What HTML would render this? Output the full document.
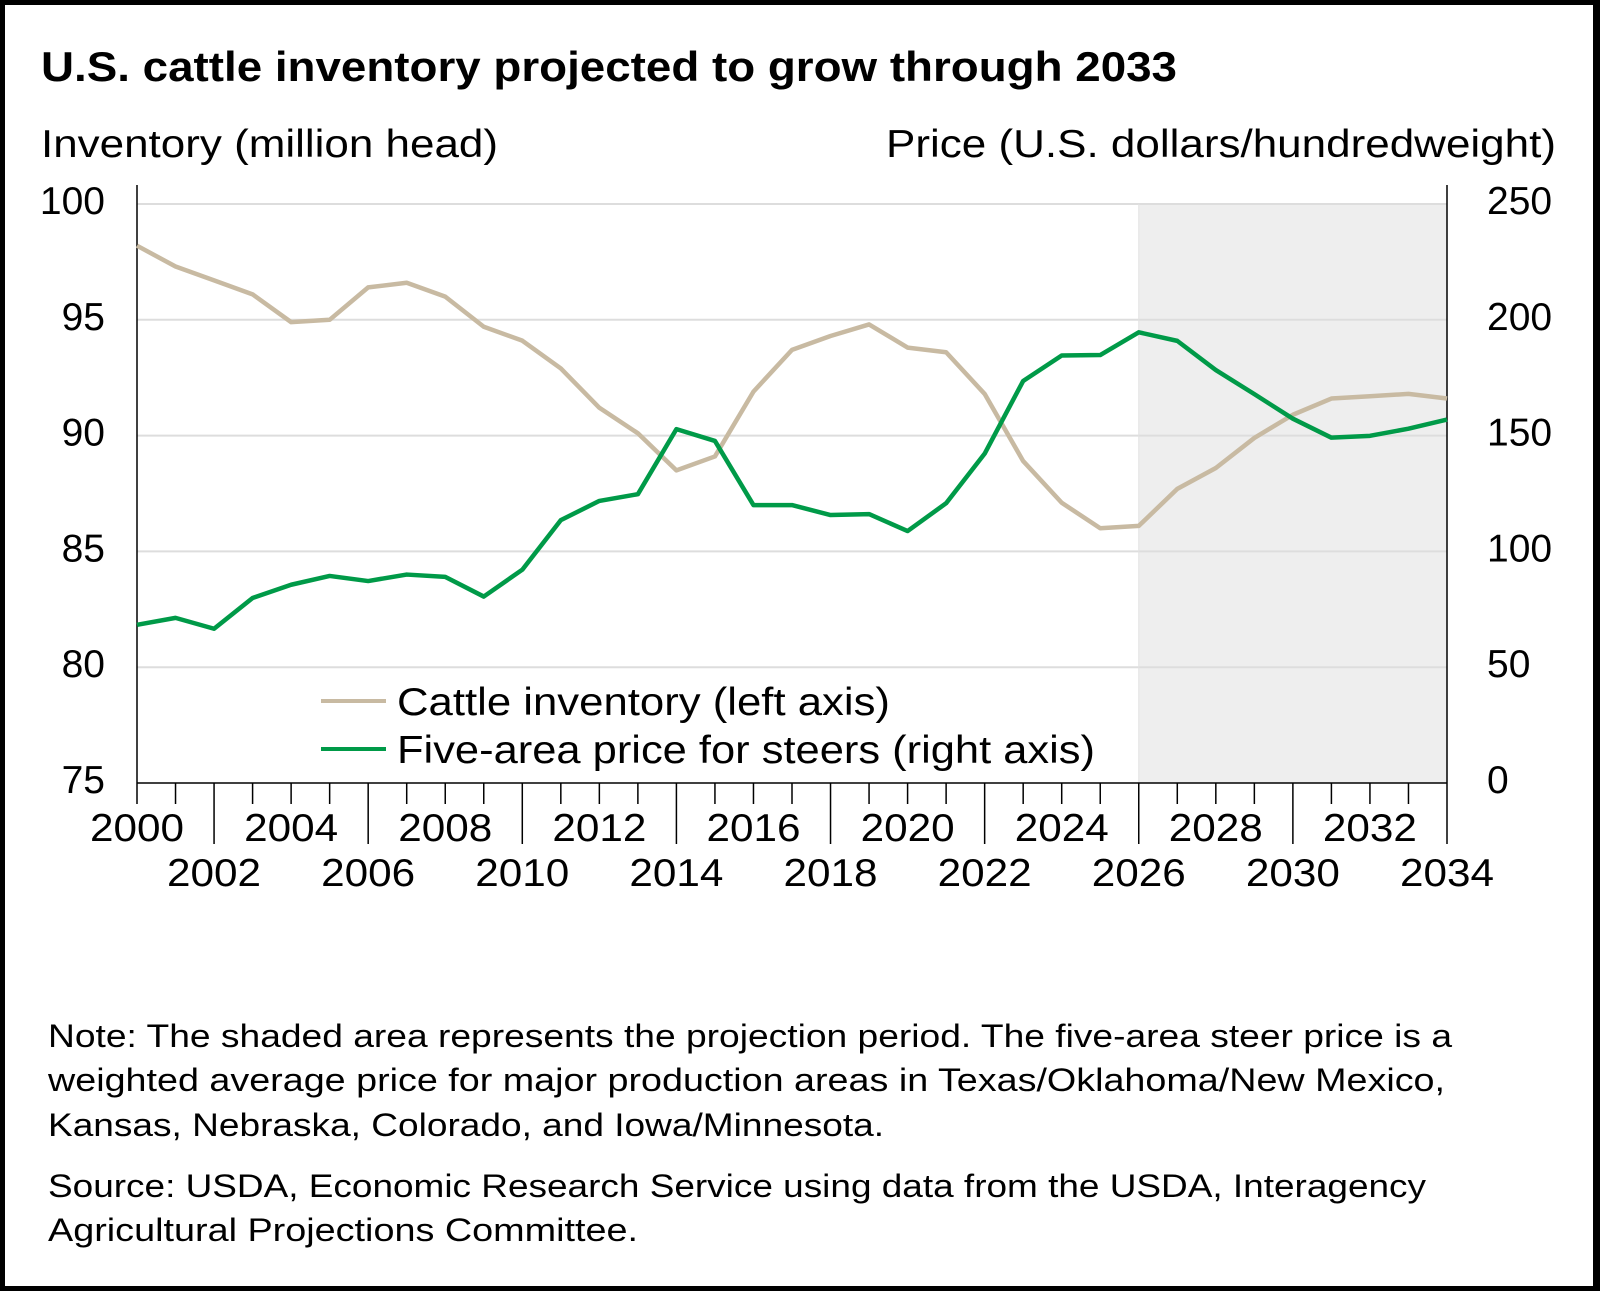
<!DOCTYPE html>
<html><head><meta charset="utf-8"><style>
html,body{margin:0;padding:0;background:#fff}
body{width:1600px;height:1291px;overflow:hidden;position:relative;font-family:"Liberation Sans",sans-serif}
</style></head><body>
<div style="position:absolute;left:0;top:0;width:1588px;height:1281px;border:5px solid #000;border-right-width:7px;box-sizing:content-box"></div>
<svg id="chart" width="1600" height="1291" style="position:absolute;left:0;top:0" font-family="Liberation Sans, sans-serif">
<text x="41" y="81" font-size="42" font-weight="bold" fill="#000" textLength="1136" lengthAdjust="spacingAndGlyphs">U.S. cattle inventory projected to grow through 2033</text>
<text x="41" y="157" font-size="39" fill="#000" textLength="457" lengthAdjust="spacingAndGlyphs">Inventory (million head)</text>
<text x="886" y="157" font-size="39" fill="#000" textLength="670" lengthAdjust="spacingAndGlyphs">Price (U.S. dollars/hundredweight)</text>
<g id="plot"></g>
<g>
<line x1="321" y1="701" x2="386" y2="701" stroke="#c8baa2" stroke-width="4"/>
<text x="397" y="715" font-size="39" textLength="493" lengthAdjust="spacingAndGlyphs">Cattle inventory (left axis)</text>
<line x1="321" y1="749" x2="386" y2="749" stroke="#009a48" stroke-width="4"/>
<text x="397" y="763" font-size="39" textLength="698" lengthAdjust="spacingAndGlyphs">Five-area price for steers (right axis)</text>
</g>
<g font-size="32" fill="#000">
<text x="48" y="1047" textLength="1404" lengthAdjust="spacingAndGlyphs">Note: The shaded area represents the projection period. The five-area steer price is a</text>
<text x="48" y="1091" textLength="1397" lengthAdjust="spacingAndGlyphs">weighted average price for major production areas in Texas/Oklahoma/New Mexico,</text>
<text x="48" y="1136" textLength="836" lengthAdjust="spacingAndGlyphs">Kansas, Nebraska, Colorado, and Iowa/Minnesota.</text>
<text x="48" y="1197" textLength="1378" lengthAdjust="spacingAndGlyphs">Source: USDA, Economic Research Service using data from the USDA, Interagency</text>
<text x="48" y="1241" textLength="590" lengthAdjust="spacingAndGlyphs">Agricultural Projections Committee.</text>
</g>
</svg>
<script>
const years=[2000,2001,2002,2003,2004,2005,2006,2007,2008,2009,2010,2011,2012,2013,2014,2015,2016,2017,2018,2019,2020,2021,2022,2023,2024,2025,2026,2027,2028,2029,2030,2031,2032,2033,2034];
const cattle=[98.2,97.3,96.7,96.1,94.9,95.0,96.4,96.6,96.0,94.7,94.1,92.9,91.2,90.1,88.5,89.1,91.9,93.7,94.3,94.8,93.8,93.6,91.8,88.9,87.1,86.0,86.1,87.7,88.6,89.9,90.9,91.6,91.7,91.8,91.6];
const price=[68.3,71.3,66.6,79.9,85.6,89.4,87.2,90.0,89.0,80.5,92.1,113.5,121.8,124.7,152.8,147.7,120.0,120.0,115.7,116.1,108.8,120.8,142.2,173.6,184.6,184.8,194.6,190.9,178.3,167.9,157.3,149.1,149.9,153.0,156.9];
const leftTicks=[75,80,85,90,95,100];
const rightTicks=[0,50,100,150,200,250];
const projStart=2026;
const X0=137,X1=1447,YT=204,YB=783;
const xs=y=>X0+(y-2000)/(2034-2000)*(X1-X0);
const yl=v=>YB-(v-75)/(100-75)*(YB-YT);
const yr=v=>YB-v/250*(YB-YT);
const NS="http://www.w3.org/2000/svg";
const g=document.getElementById('plot');
function mk(t,a){const e=document.createElementNS(NS,t);for(const k in a)e.setAttribute(k,a[k]);g.appendChild(e);return e;}
let e=mk('rect',{x:xs(projStart),y:YT,width:X1-xs(projStart),height:YB-YT,fill:'#eeeeee'});


leftTicks.forEach((v,i)=>{
 if(v>75){const l=mk('line',{x1:X0,x2:X1,y1:yl(v),y2:yl(v),stroke:'#dddddd','stroke-width':2});
 
 }
 const t=mk('text',{x:105,y:yl(v)+10,'font-size':39,'text-anchor':'end'});t.textContent=v;
 
 
});
rightTicks.forEach(v=>{
 const t=mk('text',{x:1487,y:yr(v)+10,'font-size':39});t.textContent=v;
 
 
});
e=mk('line',{x1:xs(projStart),x2:xs(projStart),y1:YT,y2:YB,stroke:'#e2e2e2','stroke-width':1});


e=mk('line',{x1:X0,x2:X0,y1:185,y2:YB,stroke:'#000','stroke-width':1.5});


e=mk('line',{x1:X1,x2:X1,y1:185,y2:YB,stroke:'#000','stroke-width':1.5});


e=mk('line',{x1:X0,x2:X1,y1:YB,y2:YB,stroke:'#000','stroke-width':1.5});


years.forEach(y=>{
 const lower=(y%4===2);
 const tk=mk('line',{x1:xs(y),x2:xs(y),y1:YB,y2:lower?844:804,stroke:'#000','stroke-width':1.5});
 
 
 if(y%2===0){const row1=(y%4===0);
  const t=mk('text',{x:xs(y),y:row1?841:886,'font-size':39,'text-anchor':'middle',textLength:94,lengthAdjust:'spacingAndGlyphs'});t.textContent=y;
  
  }
});
const pc=mk('polyline',{points:years.map((y,i)=>xs(y)+','+yl(cattle[i])).join(' '),fill:'none',stroke:'#c8baa2','stroke-width':4.5,'stroke-linejoin':'round'});


const pp=mk('polyline',{points:years.map((y,i)=>xs(y)+','+yr(price[i])).join(' '),fill:'none',stroke:'#009a48','stroke-width':4.5,'stroke-linejoin':'round'});


</script>
</body></html>
